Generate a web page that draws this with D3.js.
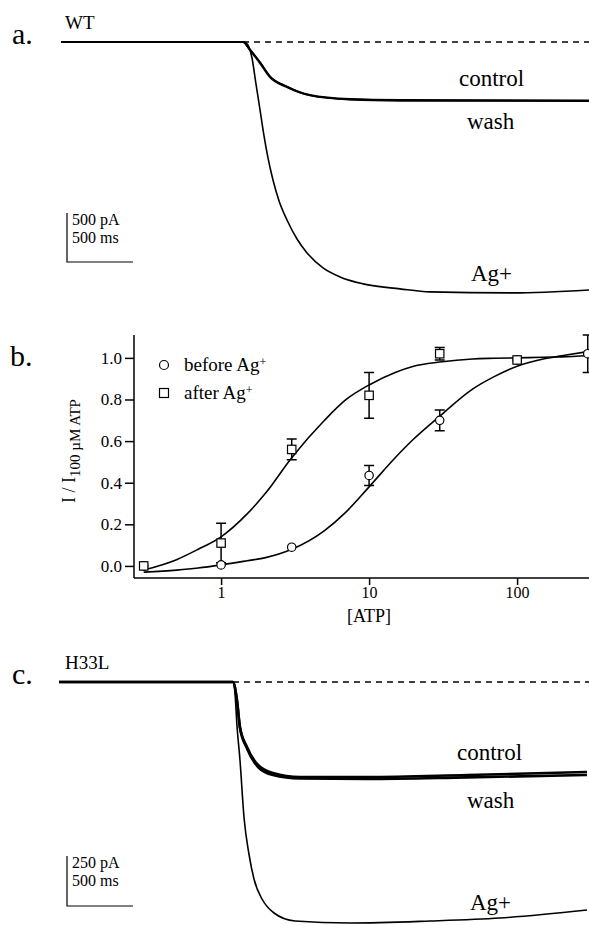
<!DOCTYPE html>
<html>
<head>
<meta charset="utf-8">
<script src="https://cdn.jsdelivr.net/npm/d3@7"></script>
<style>
  body { margin: 0; background: #fff; }
  svg, svg text { font-family: "Liberation Serif", "Times New Roman", serif; fill: #000; }
</style>
</head>
<body>
<div id="fig"></div>
<script>
// ---- panel a (WT) traces: [time ms, current pA]
var aControl = [[0,0],[1379,0],[1432,-82],[1508,-214],[1583,-357],[1712,-459],[1886,-541],[2189,-582],[2568,-592],[4000,-597]];
var aWash    = [[0,0],[1379,0],[1432,-78],[1508,-208],[1583,-350],[1712,-455],[1886,-545],[2189,-588],[2568,-600],[4000,-603]];
var aAg      = [[0,0],[1379,0],[1402,-10],[1424,-51],[1447,-163],[1477,-428],[1508,-694],[1538,-959],[1568,-1183],[1606,-1408],
                [1652,-1622],[1712,-1816],[1788,-2010],[1864,-2152],[1985,-2305],[2114,-2397],[2288,-2468],[2568,-2519],[2795,-2550],[3424,-2560],[4000,-2530]];

// ---- panel c (H33L) traces
var cControl = [[0,0],[1318,0],[1348,-90],[1371,-225],[1424,-325],[1508,-415],[1621,-455],[1826,-475],[2333,-475],[3091,-465],[4000,-450]];
var cWash    = [[0,0],[1318,0],[1348,-92],[1371,-230],[1424,-332],[1508,-425],[1621,-465],[1826,-482],[2333,-485],[3091,-477],[4000,-465]];
var cAg      = [[0,0],[1318,0],[1333,-55],[1348,-215],[1371,-390],[1402,-680],[1439,-860],[1477,-985],[1538,-1085],[1629,-1155],
                [1788,-1195],[2205,-1205],[2811,-1195],[3341,-1180],[4000,-1140]];

// ---- panel b: dose response
var atpConc    = [0.3, 1, 3, 10, 30, 100, 300];
var beforeMean = [0.0, 0.005, 0.09, 0.435, 0.70, 0.99, 1.02];
var beforeErr  = [0.01, 0.01, 0.015, 0.048, 0.05, 0.015, 0.09];
var afterMean  = [0.0, 0.11, 0.56, 0.82, 1.02, 0.99, null];
var afterErr   = [0.01, 0.095, 0.05, 0.11, 0.03, 0.015, null];

// fitted curves
var fitConc   = [0.3, 0.5, 0.7, 1, 1.5, 2, 3, 5, 7, 10, 15, 20, 30, 50, 70, 100, 150, 200, 300];
var fitBefore = [-0.03, -0.02, -0.01, 0.005, 0.025, 0.04, 0.08, 0.17, 0.26, 0.38, 0.52, 0.61, 0.72, 0.85, 0.91, 0.96, 0.995, 1.01, 1.03];
var fitAfter  = [-0.02, 0.03, 0.08, 0.14, 0.25, 0.35, 0.52, 0.70, 0.80, 0.87, 0.93, 0.96, 0.98, 0.995, 0.998, 1.0, 1.003, 1.005, 1.01];

var xTicks = [1, 10, 100];
var yTicks = [0.0, 0.2, 0.4, 0.6, 0.8, 1.0];

var W = 589, H = 925;
var FONT = "'Liberation Serif', 'Times New Roman', serif";
var svg = d3.select("#fig").append("svg").attr("width", W).attr("height", H).style("font-family", FONT);

var line = function (x, y) {
    return d3.line().x(function (d) { return x(d[0]); }).y(function (d) { return y(d[1]); }).curve(d3.curveMonotoneX);
};

function txt(g, x, y, size, s)
{
    return g.append("text").attr("x", x).attr("y", y).style("font-family", FONT).style("font-size", size + "px").text(s);
}

/**
 * draws one current panel (a or c)
 */
function tracePanel(p)
{
    var x = d3.scaleLinear().domain([0, 4000]).range([p.x0, p.x0 + 528]);
    var y = d3.scaleLinear().domain([0, -1000]).range([p.y0, p.y0 + p.pxPer1000]);
    var g = svg.append("g");

    // dashed zero line after the jump
    g.append("line")
        .attr("x1", x(p.onset)).attr("x2", W).attr("y1", y(0)).attr("y2", y(0))
        .attr("stroke", "#000").attr("stroke-width", 1.5).attr("stroke-dasharray", "6,5");

    p.traces.forEach(function (t) {
        g.append("path").datum(t.data)
            .attr("d", line(x, y))
            .attr("fill", "none").attr("stroke", "#000")
            .attr("stroke-width", t.w).attr("stroke-linejoin", "round");
    });

    txt(g, 12, p.y0 + 2, 30, p.letter);
    txt(g, 65, p.y0 - 13, 19, p.name);

    p.labels.forEach(function (l) { txt(g, l[0], l[1], 23, l[2]); });

    // scale bar
    var bx = 67, by = p.barY;
    var hLen = x(500) - x(0), vLen = y(-p.barPA) - y(0);
    g.append("path")
        .attr("d", "M" + bx + "," + (by - vLen) + "V" + by + "H" + (bx + hLen))
        .attr("fill", "none").attr("stroke", "#000").attr("stroke-width", 1.2);
    txt(g, bx + 5, by - vLen + 12, 16, p.barPA + " pA");
    txt(g, bx + 5, by - vLen + 30, 16, "500 ms");
}

tracePanel({
    letter: "a.", name: "WT", x0: 61, y0: 42, pxPer1000: 98, onset: 1379, barPA: 500, barY: 262,
    traces: [{data: aControl, w: 2.2}, {data: aWash, w: 1.8}, {data: aAg, w: 1.6}],
    labels: [[459, 86, "control"], [467, 129, "wash"], [471, 281, "Ag+"]]
});

tracePanel({
    letter: "c.", name: "H33L", x0: 59, y0: 682, pxPer1000: 200, onset: 1318, barPA: 250, barY: 906,
    traces: [{data: cControl, w: 2.6}, {data: cWash, w: 2.6}, {data: cAg, w: 1.6}],
    labels: [[457, 760, "control"], [467, 808, "wash"], [470, 910, "Ag+"]]
});

// ---- panel b
var bx = d3.scaleLog().domain([0.258, 306]).range([134, 589]);
var by = d3.scaleLinear().domain([-0.058, 1.11]).range([578, 335]);
var gb = svg.append("g");

gb.append("g").attr("transform", "translate(0,578)")
    .call(d3.axisBottom(bx).tickValues(xTicks).tickFormat(d3.format("d")).tickSize(7).tickPadding(2).tickSizeOuter(0))
    .call(function (s) { s.attr("font-family", null); s.selectAll("text").style("font-family", FONT).style("font-size", "16px"); });
gb.append("g").attr("transform", "translate(134,0)")
    .call(d3.axisLeft(by).tickValues(yTicks).tickFormat(d3.format(".1f")).tickSize(9).tickPadding(3).tickSizeOuter(0))
    .call(function (s) { s.attr("font-family", null); s.selectAll("text").style("font-family", FONT).style("font-size", "17px"); });
gb.selectAll(".tick line").attr("stroke-width", 1.5);
gb.selectAll(".domain").remove();
// axis lines drawn by hand so they start/stop where the figure does
gb.append("line").attr("x1", 134).attr("x2", 589).attr("y1", 578).attr("y2", 578).attr("stroke", "#000").attr("stroke-width", 1.5);
gb.append("line").attr("x1", 134).attr("x2", 134).attr("y1", 335).attr("y2", 578).attr("stroke", "#000").attr("stroke-width", 1.5);

var fitLine = d3.line().x(function (d) { return bx(d[0]); }).y(function (d) { return by(d[1]); }).curve(d3.curveMonotoneX);
[fitBefore, fitAfter].forEach(function (f) {
    gb.append("path").datum(d3.zip(fitConc, f)).attr("d", fitLine)
        .attr("fill", "none").attr("stroke", "#000").attr("stroke-width", 1.6);
});

function errBars(mean, err)
{
    atpConc.forEach(function (c, i) {
        if (mean[i] == null || err[i] < 0.02) return;
        var cx = bx(c), t = by(mean[i] + err[i]), b = by(mean[i] - err[i]);
        gb.append("path").attr("d", "M" + cx + "," + t + "V" + b + "M" + (cx - 5) + "," + t + "H" + (cx + 5) + "M" + (cx - 5) + "," + b + "H" + (cx + 5))
            .attr("stroke", "#000").attr("stroke-width", 1.5).attr("fill", "none");
    });
}
errBars(beforeMean, beforeErr);
errBars(afterMean, afterErr);

atpConc.forEach(function (c, i) {
    gb.append("circle").attr("cx", bx(c)).attr("cy", by(beforeMean[i])).attr("r", 4.2)
        .attr("fill", "#fff").attr("stroke", "#000").attr("stroke-width", 1.2);
    if (afterMean[i] != null)
        gb.append("rect").attr("x", bx(c) - 4.2).attr("y", by(afterMean[i]) - 4.2).attr("width", 8.4).attr("height", 8.4)
            .attr("fill", "#fff").attr("stroke", "#000").attr("stroke-width", 1.2);
});

// legend
gb.append("circle").attr("cx", 164).attr("cy", 365).attr("r", 4.5).attr("fill", "none").attr("stroke", "#000").attr("stroke-width", 1.2);
gb.append("rect").attr("x", 159.5).attr("y", 388.5).attr("width", 9).attr("height", 9).attr("fill", "none").attr("stroke", "#000").attr("stroke-width", 1.2);
var l1 = txt(gb, 184, 371, 19, "before Ag");
l1.append("tspan").attr("dy", "-0.45em").style("font-size", "12px").text("+");
var l2 = txt(gb, 184, 399, 19, "after Ag");
l2.append("tspan").attr("dy", "-0.45em").style("font-size", "12px").text("+");

txt(gb, 10, 366, 30, "b.");

var yl = gb.append("text").attr("transform", "translate(75,451) rotate(-90)").attr("text-anchor", "middle")
    .style("font-family", FONT).style("font-size", "18px");
yl.append("tspan").text("I / I");
yl.append("tspan").attr("dy", "0.3em").style("font-size", "15px").text("100 \u00b5M ATP");

txt(gb, bx(10), 622, 18, "[ATP]").attr("text-anchor", "middle");
</script>
</body>
</html>
